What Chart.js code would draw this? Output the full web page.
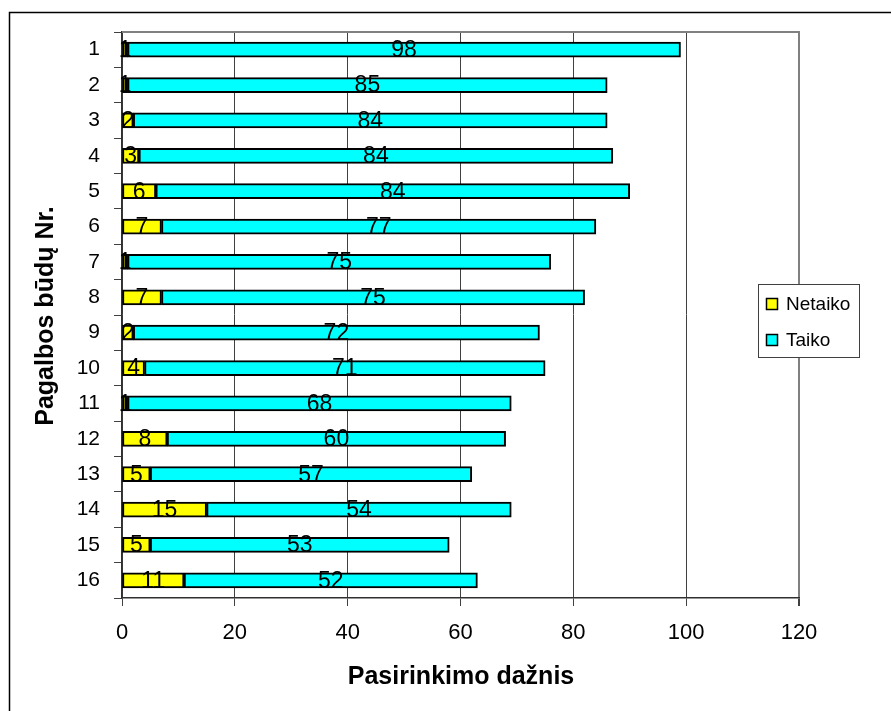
<!DOCTYPE html>
<html>
<head>
<meta charset="utf-8">
<script src="https://cdn.jsdelivr.net/npm/chart.js@4/dist/chart.umd.min.js"></script>
<style>
  html, body { margin: 0; padding: 0; background: #fff; }
  #wrap { width: 891px; height: 711px; position: relative; }
</style>
</head>
<body>
<div id="wrap"><canvas id="c" width="891" height="711"></canvas></div>
<script>
// Help method numbers (rows, top to bottom)
const categories = ['1', '2', '3', '4', '5', '6', '7', '8', '9', '10', '11', '12', '13', '14', '15', '16'];
// "Netaiko" counts per help method
const netaiko = [1, 1, 2, 3, 6, 7, 1, 7, 2, 4, 1, 8, 5, 15, 5, 11];
// "Taiko" counts per help method
const taiko = [98, 85, 84, 84, 84, 77, 75, 75, 72, 71, 68, 60, 57, 54, 53, 52];
// Frequency axis ticks
const xTicks = [0, 20, 40, 60, 80, 100, 120];

const seriesNames = ['Netaiko', 'Taiko'];
const seriesColors = ['#FFFF00', '#00FFFF'];
const FONT = '"Liberation Sans", Arial, sans-serif';

// Outer frame, plot border, axis titles
const framePlugin = {
  id: 'frame',
  beforeDraw(chart) {
    const ctx = chart.ctx;
    ctx.save();
    ctx.fillStyle = '#fff';
    ctx.fillRect(0, 0, chart.width, chart.height);
    ctx.strokeStyle = '#000';
    ctx.lineWidth = 1.5;
    ctx.strokeRect(9.5, 12.5, 900, 720);
    ctx.restore();
  },
  afterDraw(chart) {
    const ctx = chart.ctx;
    const a = chart.chartArea;
    ctx.save();
    // top border of the plot area
    ctx.strokeStyle = '#808080';
    ctx.lineWidth = 2;
    ctx.beginPath();
    ctx.moveTo(a.left, a.top);
    ctx.lineTo(a.right + 1, a.top);
    ctx.stroke();
    // axis titles
    ctx.fillStyle = '#000';
    ctx.font = 'bold 25px ' + FONT;
    ctx.textAlign = 'center';
    ctx.textBaseline = 'middle';
    ctx.fillText('Pasirinkimo dažnis', 461, 677);
    ctx.translate(46, 316);
    ctx.rotate(-Math.PI / 2);
    ctx.fillText('Pagalbos būdų Nr.', 0, 0);
    ctx.restore();
  }
};

// Value labels centred in each bar segment
const valueLabels = {
  id: 'valueLabels',
  afterDatasetsDraw(chart) {
    const ctx = chart.ctx;
    ctx.save();
    ctx.fillStyle = '#000';
    ctx.font = '23px ' + FONT;
    ctx.textAlign = 'center';
    ctx.textBaseline = 'middle';
    chart.data.datasets.forEach((ds, i) => {
      const meta = chart.getDatasetMeta(i);
      meta.data.forEach((el, j) => {
        const cx = (el.x + el.base) / 2;
        ctx.fillText(String(ds.data[j]), cx, el.y + 1);
      });
    });
    ctx.restore();
  }
};

// Boxed legend at the right side
const boxLegend = {
  id: 'boxLegend',
  afterDraw(chart) {
    const ctx = chart.ctx;
    ctx.save();
    const bx = 758.5, by = 284.5, bw = 101, bh = 73;
    ctx.fillStyle = '#fff';
    ctx.fillRect(bx, by, bw, bh);
    ctx.strokeStyle = '#404040';
    ctx.lineWidth = 1;
    ctx.strokeRect(bx, by, bw, bh);
    ctx.font = '19px ' + FONT;
    ctx.textAlign = 'left';
    ctx.textBaseline = 'middle';
    chart.data.datasets.forEach((ds, i) => {
      const cy = 304 + i * 36;
      ctx.fillStyle = ds.backgroundColor;
      ctx.fillRect(766.5, cy - 5.5, 11, 11);
      ctx.strokeStyle = '#000';
      ctx.lineWidth = 1.5;
      ctx.strokeRect(766.5, cy - 5.5, 11, 11);
      ctx.fillStyle = '#000';
      ctx.fillText(ds.label, 786, cy + 1);
    });
    ctx.restore();
  }
};

new Chart(document.getElementById('c'), {
  type: 'bar',
  data: {
    labels: categories,
    datasets: [
      { label: seriesNames[0], data: netaiko, backgroundColor: seriesColors[0] },
      { label: seriesNames[1], data: taiko, backgroundColor: seriesColors[1] }
    ]
  },
  options: {
    indexAxis: 'y',
    responsive: false,
    animation: false,
    devicePixelRatio: 1,
    layout: { padding: { left: 0, top: 32, right: 92, bottom: 0 } },
    datasets: {
      bar: {
        barThickness: 15,
        borderColor: '#000',
        borderWidth: 2,
        borderSkipped: false
      }
    },
    plugins: {
      legend: { display: false },
      tooltip: { enabled: false }
    },
    scales: {
      x: {
        stacked: true,
        min: 0,
        max: 120,
        afterBuildTicks(scale) { scale.ticks = xTicks.map(v => ({ value: v })); },
        afterFit(scale) { scale.height = 113; },
        ticks: {
          color: '#000',
          font: { family: FONT, size: 22 },
          padding: 14
        },
        grid: {
          color: c => (c.tick && c.tick.value === 120) ? '#808080' : '#404040',
          lineWidth: c => (c.tick && c.tick.value === 120) ? 2 : 1,
          tickColor: '#404040',
          tickLength: 8
        },
        border: { color: '#303030', width: 1.5 }
      },
      y: {
        stacked: true,
        afterFit(scale) { scale.width = 122; },
        ticks: {
          color: '#000',
          font: { family: FONT, size: 21 },
          padding: 14
        },
        grid: {
          offset: true,
          drawOnChartArea: false,
          tickColor: '#404040',
          tickLength: 8
        },
        border: { color: '#303030', width: 1.5 }
      }
    }
  },
  plugins: [framePlugin, valueLabels, boxLegend]
});
</script>
</body>
</html>
